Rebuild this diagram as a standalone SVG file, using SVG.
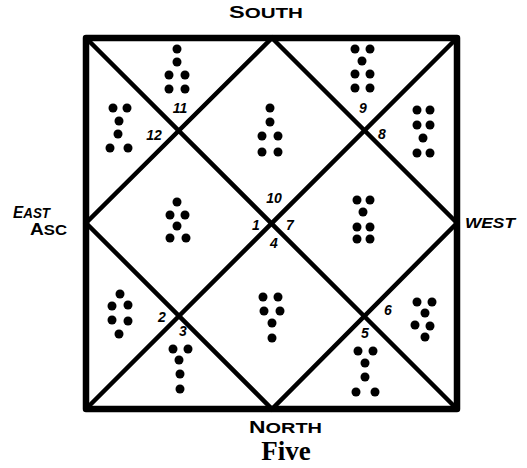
<svg xmlns="http://www.w3.org/2000/svg" width="527" height="468" viewBox="0 0 527 468">
<style>
.ln{stroke:#000;stroke-width:4.5;fill:none;stroke-linecap:round}
.bd{stroke:#000;stroke-width:6.5;fill:none;stroke-linejoin:round}
.d{fill:#000}
.n{font-family:"Liberation Sans",Arial,sans-serif;font-weight:bold;font-style:italic;font-size:14px;fill:#000;text-anchor:middle}
.lbl{font-family:"Liberation Sans",Arial,sans-serif;font-weight:bold;font-size:14px;fill:#000}
.cap{font-family:"Liberation Serif","Times New Roman",serif;font-weight:bold;font-size:27px;fill:#000;text-anchor:middle}
</style>
<rect width="527" height="468" fill="#fff"/>
<g id="connectors">
<rect class="bd" x="86" y="38" width="371" height="371"/>
<line class="ln" x1="86" y1="38" x2="457" y2="409"/>
<line class="ln" x1="457" y1="38" x2="86" y2="409"/>
<polygon class="ln" points="272,38 457,223 272,409 86,223"/>
</g>
<g id="house-top-left">
<circle class="d" cx="177" cy="49" r="4.5"/>
<circle class="d" cx="177" cy="62" r="4.5"/>
<circle class="d" cx="169" cy="75" r="4.5"/><circle class="d" cx="185" cy="75" r="4.5"/>
<circle class="d" cx="169" cy="89" r="4.5"/><circle class="d" cx="185" cy="89" r="4.5"/>
<text class="n" x="180" y="113">11</text>
</g>
<g id="house-top-right">
<circle class="d" cx="355" cy="49" r="4.5"/><circle class="d" cx="370" cy="49" r="4.5"/>
<circle class="d" cx="362" cy="61" r="4.5"/>
<circle class="d" cx="355" cy="74" r="4.5"/><circle class="d" cx="370" cy="74" r="4.5"/>
<circle class="d" cx="355" cy="88" r="4.5"/><circle class="d" cx="370" cy="88" r="4.5"/>
<text class="n" x="363" y="113">9</text>
</g>
<g id="house-top-center">
<circle class="d" cx="270" cy="108" r="4.5"/>
<circle class="d" cx="270" cy="122" r="4.5"/>
<circle class="d" cx="262" cy="136" r="4.5"/><circle class="d" cx="278" cy="136" r="4.5"/>
<circle class="d" cx="262" cy="152" r="4.5"/><circle class="d" cx="278" cy="152" r="4.5"/>
</g>
<g id="house-left-upper">
<circle class="d" cx="113" cy="108" r="4.5"/><circle class="d" cx="127" cy="108" r="4.5"/>
<circle class="d" cx="119" cy="121" r="4.5"/>
<circle class="d" cx="118" cy="134" r="4.5"/>
<circle class="d" cx="110" cy="148" r="4.5"/><circle class="d" cx="128" cy="148" r="4.5"/>
<text class="n" x="154" y="140">12</text>
</g>
<g id="house-right-upper">
<circle class="d" cx="417" cy="110" r="4.5"/><circle class="d" cx="430" cy="110" r="4.5"/>
<circle class="d" cx="417" cy="125" r="4.5"/><circle class="d" cx="430" cy="125" r="4.5"/>
<circle class="d" cx="423" cy="138" r="4.5"/>
<circle class="d" cx="417" cy="153" r="4.5"/><circle class="d" cx="430" cy="153" r="4.5"/>
<text class="n" x="382" y="139">8</text>
</g>
<g id="house-left-center">
<circle class="d" cx="177" cy="202" r="4.5"/>
<circle class="d" cx="170" cy="215" r="4.5"/><circle class="d" cx="185" cy="215" r="4.5"/>
<circle class="d" cx="177" cy="226" r="4.5"/>
<circle class="d" cx="170" cy="238" r="4.5"/><circle class="d" cx="186" cy="238" r="4.5"/>
</g>
<g id="house-right-center">
<circle class="d" cx="357" cy="200" r="4.5"/><circle class="d" cx="370" cy="200" r="4.5"/>
<circle class="d" cx="363" cy="212" r="4.5"/>
<circle class="d" cx="357" cy="227" r="4.5"/><circle class="d" cx="370" cy="227" r="4.5"/>
<circle class="d" cx="357" cy="239" r="4.5"/><circle class="d" cx="370" cy="239" r="4.5"/>
</g>
<g id="center-labels">
<text class="n" x="274" y="203">10</text>
<text class="n" x="256" y="230">1</text>
<text class="n" x="290" y="230">7</text>
<text class="n" x="274" y="248">4</text>
</g>
<g id="house-left-lower">
<circle class="d" cx="120" cy="294" r="4.5"/>
<circle class="d" cx="112" cy="306" r="4.5"/><circle class="d" cx="128" cy="305" r="4.5"/>
<circle class="d" cx="112" cy="320" r="4.5"/><circle class="d" cx="128" cy="321" r="4.5"/>
<circle class="d" cx="119" cy="334" r="4.5"/>
<text class="n" x="162" y="322">2</text>
</g>
<g id="house-bottom-center">
<circle class="d" cx="263" cy="297" r="4.5"/><circle class="d" cx="278" cy="297" r="4.5"/>
<circle class="d" cx="264" cy="311" r="4.5"/><circle class="d" cx="280" cy="311" r="4.5"/>
<circle class="d" cx="272" cy="323" r="4.5"/>
<circle class="d" cx="272" cy="338" r="4.5"/>
</g>
<g id="house-right-lower">
<circle class="d" cx="417" cy="302" r="4.5"/><circle class="d" cx="432" cy="302" r="4.5"/>
<circle class="d" cx="425" cy="313" r="4.5"/>
<circle class="d" cx="415" cy="325" r="4.5"/><circle class="d" cx="430" cy="326" r="4.5"/>
<circle class="d" cx="425" cy="337" r="4.5"/>
<text class="n" x="388" y="315">6</text>
</g>
<g id="house-bottom-left">
<circle class="d" cx="173" cy="349" r="4.5"/><circle class="d" cx="188" cy="349" r="4.5"/>
<circle class="d" cx="179" cy="360" r="4.5"/>
<circle class="d" cx="180" cy="374" r="4.5"/>
<circle class="d" cx="180" cy="389" r="4.5"/>
<text class="n" x="183" y="336">3</text>
</g>
<g id="house-bottom-right">
<circle class="d" cx="358" cy="351" r="4.5"/><circle class="d" cx="373" cy="351" r="4.5"/>
<circle class="d" cx="365" cy="363" r="4.5"/>
<circle class="d" cx="365" cy="377" r="4.5"/>
<circle class="d" cx="356" cy="392" r="4.5"/><circle class="d" cx="375" cy="392" r="4.5"/>
<text class="n" x="365" y="338">5</text>
</g>
<g id="directions">
<text class="lbl" x="229" y="18" textLength="74" lengthAdjust="spacingAndGlyphs"><tspan font-size="16">S</tspan>OUTH</text>
<text class="lbl" x="249" y="433" textLength="73" lengthAdjust="spacingAndGlyphs"><tspan font-size="16">N</tspan>ORTH</text>
<text class="lbl" x="13" y="218" font-style="italic" textLength="37" lengthAdjust="spacingAndGlyphs"><tspan font-size="16">E</tspan>AST</text>
<text class="lbl" x="30" y="235" textLength="37" lengthAdjust="spacingAndGlyphs"><tspan font-size="16">A</tspan>SC</text>
<text class="lbl" x="465" y="228" font-style="italic" textLength="50" lengthAdjust="spacingAndGlyphs">WEST</text>
</g>
<text class="cap" x="286" y="460">Five</text>
</svg>
